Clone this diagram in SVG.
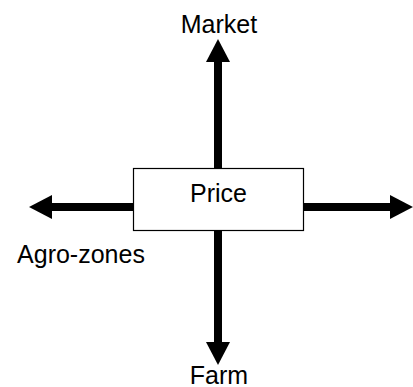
<svg xmlns="http://www.w3.org/2000/svg" width="413" height="387" viewBox="0 0 413 387">
<style>
  .lbl { font-family: "Liberation Sans", Arial, sans-serif; font-size: 25px; fill: #000; text-anchor: middle; }
  .shaft { stroke: #000; stroke-width: 8; fill: none; marker-end: url(#head); }
  .box { fill: #fff; stroke: #000; stroke-width: 1.2; }
</style>
<defs>
  <marker id="head" markerUnits="userSpaceOnUse" markerWidth="24" markerHeight="24" refX="0" refY="12" orient="auto" viewBox="0 0 24 24">
    <path d="M0,0 L23,12 L0,24 z" fill="#000"/>
  </marker>
</defs>
<g id="connectors">
  <line class="shaft" x1="218" y1="168" x2="218" y2="62"/>
  <line class="shaft" x1="218" y1="230" x2="218" y2="342"/>
  <line class="shaft" x1="133" y1="207" x2="52" y2="207"/>
  <line class="shaft" x1="303" y1="207" x2="390" y2="207"/>
</g>
<g id="price">
  <rect class="box" x="133.5" y="168.5" width="170" height="62"/>
  <text class="lbl" x="218.5" y="202">Price</text>
</g>
<g id="market">
  <text class="lbl" x="219" y="33">Market</text>
</g>
<g id="farm">
  <text class="lbl" x="219" y="384">Farm</text>
</g>
<g id="agro-zones">
  <text class="lbl" x="81" y="263">Agro-zones</text>
</g>
</svg>
